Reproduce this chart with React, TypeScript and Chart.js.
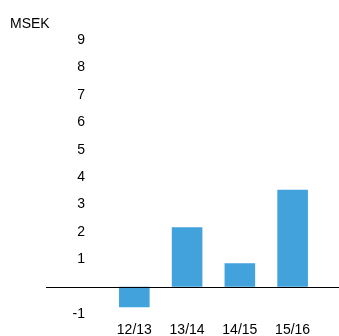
import React, { useEffect, useRef } from "react";
import { Chart, registerables } from "chart.js";

Chart.register(...registerables);

const categories = ["12/13", "13/14", "14/15", "15/16"];
const values = [-0.75, 2.17, 0.86, 3.54];
const unitLabel = "MSEK";
const chartTitle = "Result after financial items";
const yMin = -1;
const yMax = 9;

const FONT = "'Liberation Sans', Arial, Helvetica, sans-serif";

const overlayPlugin = {
  id: "overlay",
  afterDraw(chart: any) {
    const { ctx, scales } = chart;
    const y0 = scales.y.getPixelForValue(0);
    ctx.save();
    // zero line
    ctx.strokeStyle = "#000";
    ctx.lineWidth = 1;
    ctx.beginPath();
    ctx.moveTo(46, Math.round(y0) + 0.5);
    ctx.lineTo(chart.width, Math.round(y0) + 0.5);
    ctx.stroke();
    // unit label
    ctx.fillStyle = "#000";
    ctx.font = `14px ${FONT}`;
    ctx.textAlign = "left";
    ctx.textBaseline = "middle";
    ctx.fillText(unitLabel, 10, 24);
    // cut-off title
    ctx.fillStyle = "#888";
    ctx.font = `bold 16px ${FONT}`;
    ctx.textAlign = "center";
    ctx.textBaseline = "alphabetic";
    ctx.fillText(chartTitle, 205, 0);
    ctx.restore();
  },
};

export default function App() {
  const ref = useRef<HTMLCanvasElement | null>(null);
  useEffect(() => {
    if (!ref.current) return;
    const chart = new Chart(ref.current, {
      type: "bar",
      data: {
        labels: categories,
        datasets: [
          {
            data: values,
            backgroundColor: "#42a2dc",
            borderWidth: 0,
            categoryPercentage: 1,
            barPercentage: 0.58,
          },
        ],
      },
      options: {
        animation: false,
        responsive: true,
        maintainAspectRatio: false,
        layout: { padding: { left: 49.5, right: 20, top: 40, bottom: 0 } },
        plugins: { legend: { display: false }, tooltip: { enabled: false }, title: { display: false } },
        scales: {
          x: {
            grid: { display: false, drawTicks: false },
            border: { display: false },
            ticks: { color: "#000", font: { family: FONT, size: 14 }, padding: 8, maxRotation: 0 },
          },
          y: {
            min: yMin,
            max: yMax,
            grid: { display: false, drawTicks: false },
            border: { display: false },
            ticks: {
              stepSize: 1,
              color: "#000",
              font: { family: FONT, size: 14 },
              padding: 23,
              callback: (v: any) => (v === 0 ? "" : String(v)),
            },
          },
        },
      },
      plugins: [overlayPlugin],
    });
    return () => chart.destroy();
  }, []);
  return (
    <div style={{ position: "fixed", left: 0, top: 0, width: 339, height: 347 }}>
      <canvas ref={ref} />
    </div>
  );
}
